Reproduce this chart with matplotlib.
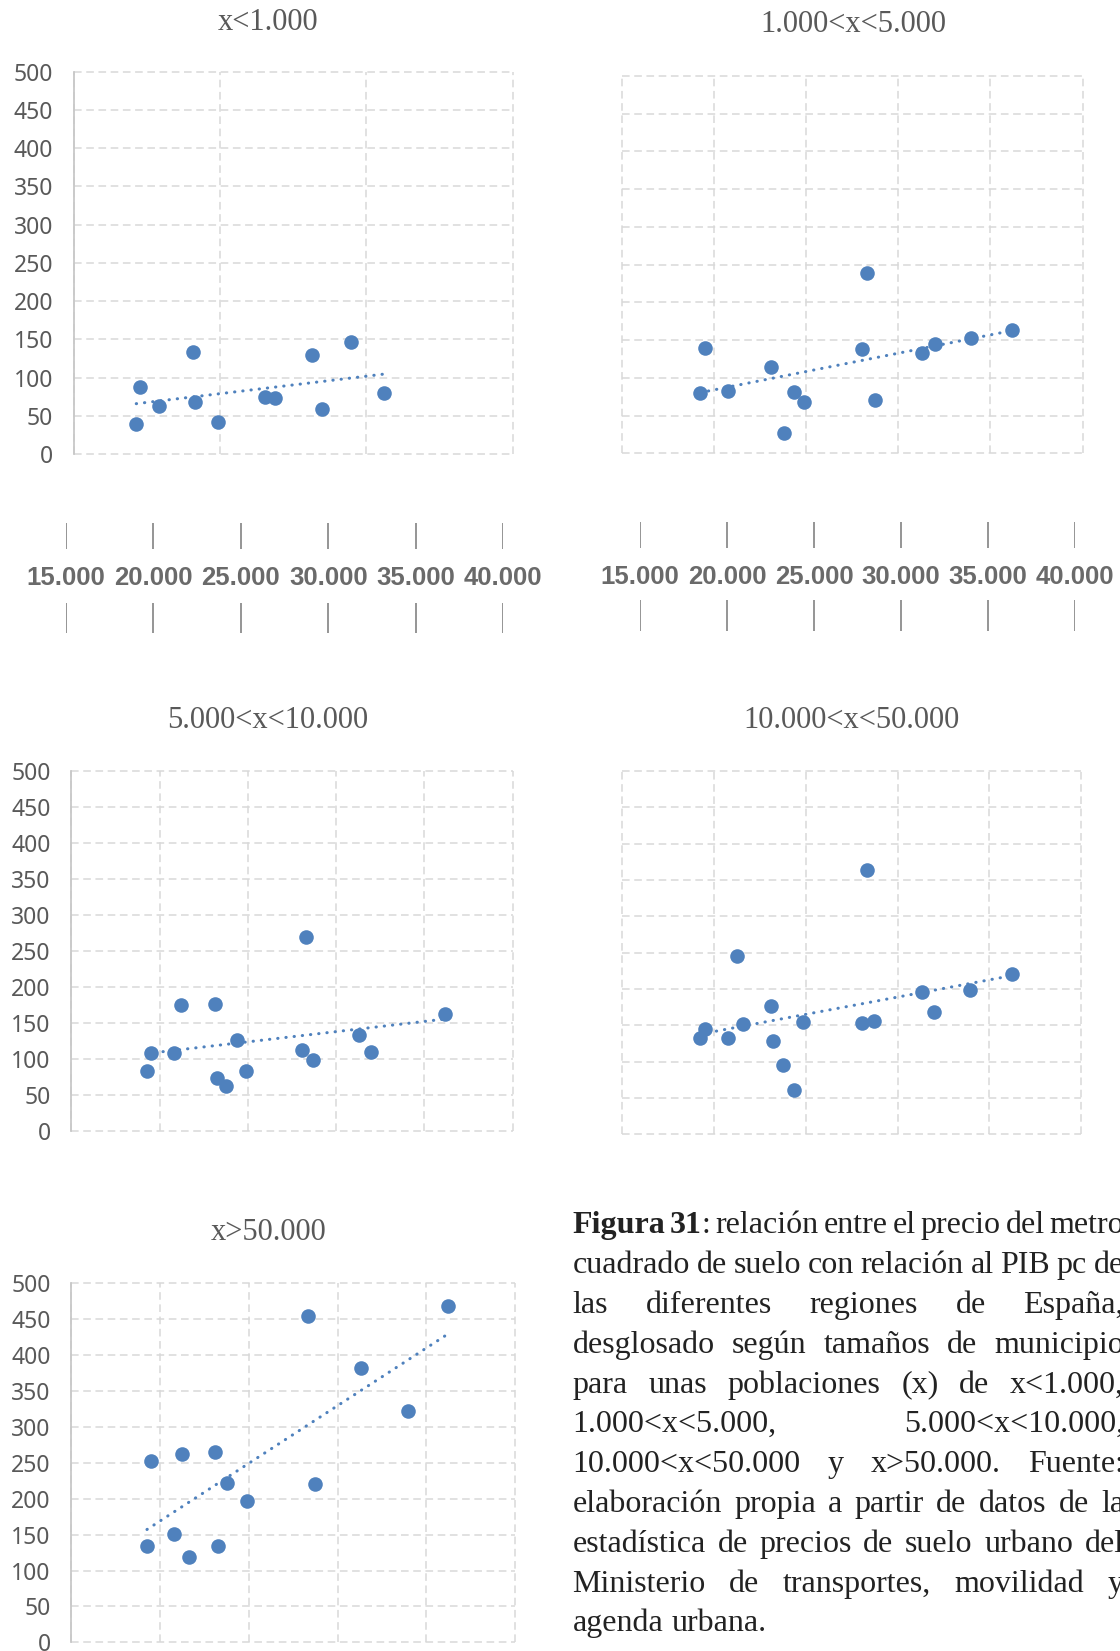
import matplotlib
matplotlib.use('Agg')
import matplotlib.pyplot as plt
import numpy as np

W, H = 1120, 1651
nan = float('nan')

# PIB per capita of the 17 regions (same x for every panel)
pib_pc = [19260, 19510, 20790, 21240, 21610, 23120, 23250, 23790, 24370,
          24880, 28050, 28320, 28720, 31310, 31980, 33950, 36200]

# precio del suelo (eur/m2) per municipality size, same order as pib_pc, nan = no point
precio_lt1k = [38.8, 88, 62.8, nan, nan, 133.8, 68.4, nan, nan,
               41.8, 74.1, nan, 72.8, 129.5, 58.8, 146.5, 79.8]
precio_1k_5k = [80, 139.6, 82.6, nan, nan, 114.4, nan, 26.5, 81.3,
                68.5, 138.3, 238.5, 71.1, 133.4, 144.9, 152.4, 163]
precio_5k_10k = [83.8, 108.8, 108.3, 175.5, nan, 175.9, 74.1, 63, 126.4,
                 83.8, 112.5, 269, 99.1, 133.3, 109.3, nan, 162.5]
precio_10k_50k = [132.1, 144.5, 132.1, 245.9, 152.3, 176.1, 128.4, 95, 61.5,
                  154.1, 153.7, 363.8, 156.4, 195.9, 168.8, 198.6, 220.2]
precio_gt50k = [134.6, 253, 150.9, 262.3, 119.3, 264.6, 134.2, 221.9, nan,
                196.4, nan, 454.5, 221, 382.1, nan, 322.2, 468.4]

titles = ["x<1.000", "1.000<x<5.000", "5.000<x<10.000", "10.000<x<50.000", "x>50.000"]
series = [precio_lt1k, precio_1k_5k, precio_5k_10k, precio_10k_50k, precio_gt50k]

strip_ticks = [15000, 20000, 25000, 30000, 35000, 40000]
strip_labels = ["15.000", "20.000", "25.000", "30.000", "35.000", "40.000"]

caption_lines = [
    "*Figura* *31*: relación entre el precio del metro",
    "cuadrado de suelo con relación al PIB pc de",
    "las diferentes regiones de España,",
    "desglosado según tamaños de municipio",
    "para unas poblaciones (x) de x<1.000,",
    "1.000<x<5.000, 5.000<x<10.000,",
    "10.000<x<50.000 y x>50.000. Fuente:",
    "elaboración propia a partir de datos de la",
    "estadística de precios de suelo urbano del",
    "Ministerio de transportes, movilidad y",
    "agenda urbana.",
]

BLUE = '#4F81BD'
GREY_TXT = '#595959'

fig = plt.figure(figsize=(W / 100, H / 100), dpi=100)


def px_axes(l, t, r, b):
    return fig.add_axes([l / W, 1 - b / H, (r - l) / W, (b - t) / H])


# panel boxes in pixels: left, top, right, bottom, xmax, xstep, y labels?, title centre
panels = [
    (74, 71.7, 512.5, 454, 45000, 10000, True, (268, 23)),
    (621.8, 76, 1082.5, 453.3, 40000, 5000, False, (853, 25)),
    (71.4, 771, 512.5, 1131, 40000, 5000, True, (268, 720)),
    (621.8, 771, 1081.4, 1134.3, 40000, 5000, False, (852, 720)),
    (71.4, 1283.3, 515, 1642.3, 40000, 5000, True, (269, 1232)),
]

x = np.array(pib_pc, dtype=float)
for i, (l, t, r, b, xmax, xstep, show_y, tpos) in enumerate(panels):
    ax = px_axes(l, t, r, b)
    ax.set_xlim(15000, xmax)
    ax.set_ylim(0, 500)
    ax.set_xticks(np.arange(15000, xmax + 1, xstep))
    ax.set_yticks(range(0, 501, 50))
    ax.set_axisbelow(True)
    ax.grid(True, color='#D9D9D9', lw=1.1, ls=(0, (5, 3)))
    for gl in ax.get_xgridlines() + ax.get_ygridlines():
        gl.set_clip_on(False)
    for s in ax.spines.values():
        s.set_visible(False)
    ax.tick_params(length=0, labelbottom=False)
    if show_y:
        ax.spines['left'].set_visible(True)
        ax.spines['left'].set_color('#C8C8C8')
        ax.spines['left'].set_linewidth(1.3)
        ax.spines['left'].set_zorder(2.5)
        ax.tick_params(axis='y', pad=15, labelsize=16.5, labelcolor=GREY_TXT)
        for lab in ax.get_yticklabels():
            lab.set_family('Noto Sans')
    else:
        ax.tick_params(labelleft=False)

    y = np.array(series[i], dtype=float)
    ok = ~np.isnan(y)
    ax.scatter(x[ok], y[ok], s=110, color=BLUE, linewidths=0, zorder=3, clip_on=False)
    coef = np.polyfit(x[ok], y[ok], 1)
    xs = np.array([x[ok].min(), x[ok].max()])
    ax.plot(xs, np.polyval(coef, xs), color=BLUE, lw=2.2, ls=(0, (0.1, 2.6)),
            dash_capstyle='round', zorder=2.8)

    fig.text(tpos[0] / W, 1 - tpos[1] / H, titles[i], ha='center', va='center',
             fontsize=22, family='Liberation Serif', color=GREY_TXT)


# the loose x tick strips below the first row
def tick_strip(l, r, up, mid, low):
    ax = fig.add_axes([l / W, 1 - 660 / H, (r - l) / W, 160 / H])
    ax.set_xlim(15000, 40000)
    ax.set_ylim(660, 500)
    ax.axis('off')
    ax.vlines(strip_ticks, up[0], up[1], color='#8C8C8C', lw=1.3)
    ax.vlines(strip_ticks, low[0], low[1], color='#8C8C8C', lw=1.3)
    for tx, lab in zip(strip_ticks, strip_labels):
        ax.text(tx, mid, lab, ha='center', va='center', fontsize=18.5,
                family='Liberation Sans', fontweight='bold', color='#6A6A6A',
                clip_on=False)


tick_strip(66, 503, (523, 549), 578, (603, 633))
tick_strip(640, 1075, (522, 548), 577, (600, 631))

# caption, justified by hand
cap_left, cap_right = 572.5, 1124
base0, step = 1233.3, 39.8
cap_size = 23
renderer = fig.canvas.get_renderer()

for n, line in enumerate(caption_lines):
    yb = 1 - (base0 + n * step) / H
    words = []
    for w in line.split(' '):
        parts = []
        for k, p in enumerate(w.split('*')):
            if p:
                t = fig.text(0, yb, p, va='baseline', fontsize=cap_size,
                             family='Liberation Serif', color='#222222',
                             fontweight='bold' if k % 2 else 'normal')
                parts.append((t, t.get_window_extent(renderer).width))
        words.append(parts)
    widths = [sum(pw for _, pw in parts) for parts in words]
    if n == len(caption_lines) - 1:
        gap = 8
    else:
        gap = (cap_right - cap_left - sum(widths)) / (len(words) - 1)
    xc = cap_left
    for parts, ww in zip(words, widths):
        xp = xc
        for t, pw in parts:
            t.set_x(xp / W)
            xp += pw
        xc += ww + gap

fig.savefig('out.png', dpi=100)
